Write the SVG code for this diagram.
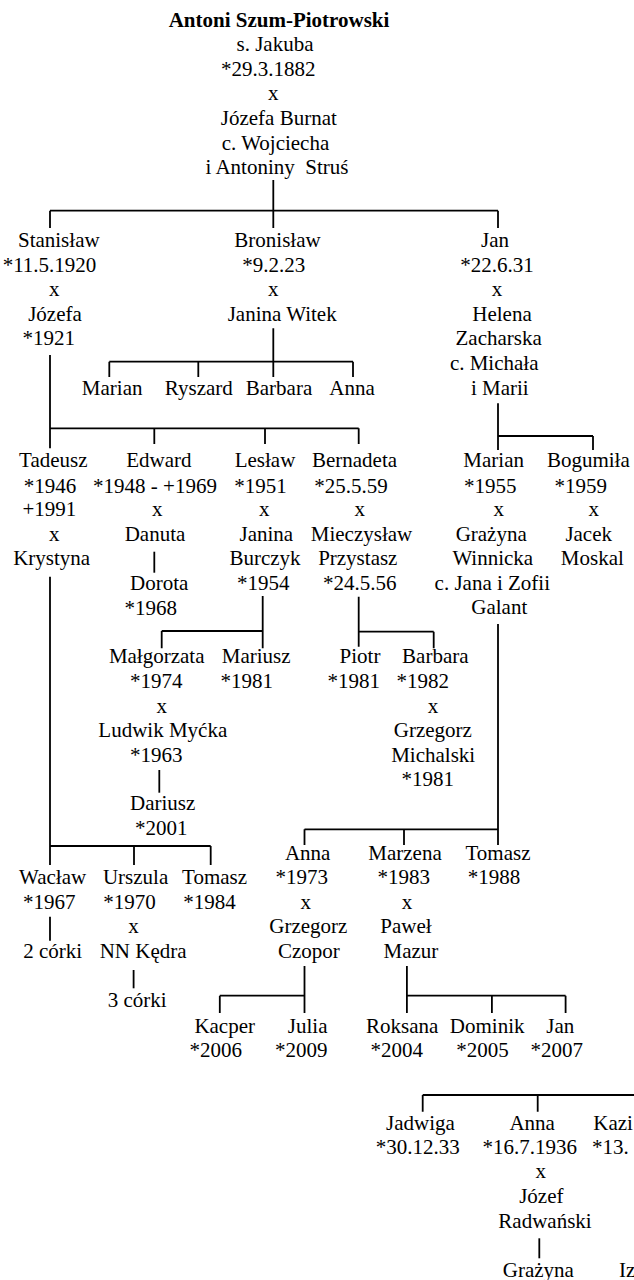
<svg xmlns="http://www.w3.org/2000/svg" width="634" height="1280" viewBox="0 0 634 1280">
<style>
text{font-family:"Liberation Serif","Times New Roman",serif;font-size:21px;fill:#000;text-anchor:middle;white-space:pre}
text.b{font-weight:bold}
text.s{text-anchor:start}
#connectors path{stroke:#000;stroke-width:1.8;fill:none}
</style>
<rect width="634" height="1280" fill="#fff"/>
<g id="connectors">
<path d="M273.3 180V228M50 210.7H498M50 210.7V228M498 210.7V228"/>
<path d="M273.3 328.3V377M109.3 361.7H353M109.3 361.7V377M198.3 361.7V377M353 361.7V377"/>
<path d="M50 355V448.3M50 428.3H358.7M154.3 428.3V444M265 428.3V444M358.7 428.3V444"/>
<path d="M498 403.3V450M498 436H593M593 436V450"/>
<path d="M154.3 551.7V572.7"/>
<path d="M262.7 596V648.3M161.7 631H262.7M161.7 631V648.3"/>
<path d="M358.7 596.7V646.7M358.7 631.7H433.7M433.7 631.7V648.3"/>
<path d="M159.3 770V792.7"/>
<path d="M50 576.7V865M50 846H210.7M134 846V865M210.7 846V865"/>
<path d="M498 624V845M304.5 829.3H498M304.5 829.3V845M404 829.3V845"/>
<path d="M50 916.7V940.7"/>
<path d="M133.6 970V988.3"/>
<path d="M304.5 966V1013M219.8 995.7H304.5M219.8 995.7V1013"/>
<path d="M406.9 966V1013M406.9 995.7H565.6M491.9 995.7V1013M565.6 995.7V1013"/>
<path d="M422.7 1095H634M422.7 1095V1111.7M537.7 1095V1111.7"/>
<path d="M539.3 1238.3V1258.3"/>
</g>
<g id="n-antoni">
<text class="b" x="279" y="27">Antoni Szum-Piotrowski</text>
<text x="275" y="51">s. Jakuba</text>
<text x="268.3" y="76">*29.3.1882</text>
<text x="273.3" y="100">x</text>
<text x="278.8" y="125">Józefa Burnat</text>
<text x="275.5" y="149.5">c. Wojciecha</text>
<text x="277" y="174">i Antoniny  Struś</text>
</g>
<g id="n-stanislaw">
<text x="58.8" y="246.7">Stanisław</text>
<text x="49.5" y="271.7">*11.5.1920</text>
<text x="54.3" y="296">x</text>
<text x="55" y="321">Józefa</text>
<text x="48.7" y="345">*1921</text>
</g>
<g id="n-bronislaw">
<text x="277.5" y="246.7">Bronisław</text>
<text x="273.7" y="271.7">*9.2.23</text>
<text x="273.3" y="296">x</text>
<text x="282.2" y="321">Janina Witek</text>
</g>
<g id="n-jan">
<text x="495" y="246.7">Jan</text>
<text x="497" y="271.7">*22.6.31</text>
<text x="497" y="296">x</text>
<text x="502" y="321">Helena</text>
<text x="498.7" y="345">Zacharska</text>
<text x="494.2" y="370">c. Michała</text>
<text x="499.8" y="394.5">i Marii</text>
</g>
<g id="n-marian-b"><text x="112.2" y="395">Marian</text></g>
<g id="n-ryszard"><text x="198.8" y="395">Ryszard</text></g>
<g id="n-barbara-b"><text x="279" y="395">Barbara</text></g>
<g id="n-anna-b"><text x="352" y="395">Anna</text></g>
<g id="n-tadeusz">
<text x="53.3" y="467.3">Tadeusz</text>
<text x="50" y="492.7">*1946</text>
<text x="49.3" y="516">+1991</text>
<text x="54.3" y="541">x</text>
<text x="51.7" y="565">Krystyna</text>
</g>
<g id="n-edward">
<text x="158.8" y="467.3">Edward</text>
<text x="155" y="492.7">*1948 - +1969</text>
<text x="157.3" y="516">x</text>
<text x="155" y="541">Danuta</text>
</g>
<g id="n-dorota">
<text x="159.2" y="590">Dorota</text>
<text x="150.8" y="615">*1968</text>
</g>
<g id="n-leslaw">
<text x="265" y="467.3">Lesław</text>
<text x="260.5" y="492.7">*1951</text>
<text x="264.3" y="516">x</text>
<text x="266.3" y="541">Janina</text>
<text x="265" y="565">Burczyk</text>
<text x="263.3" y="590">*1954</text>
</g>
<g id="n-bernadeta">
<text x="354.5" y="467.3">Bernadeta</text>
<text x="351" y="492.7">*25.5.59</text>
<text x="359.7" y="516">x</text>
<text x="361.5" y="541">Mieczysław</text>
<text x="357.8" y="565">Przystasz</text>
<text x="359.7" y="590">*24.5.56</text>
</g>
<g id="n-marian-j">
<text x="493.7" y="467.3">Marian</text>
<text x="490.3" y="492.7">*1955</text>
<text x="498.7" y="516">x</text>
<text x="491.2" y="541">Grażyna</text>
<text x="492.8" y="565">Winnicka</text>
<text x="492.3" y="590">c. Jana i Zofii</text>
<text x="499.3" y="614.3">Galant</text>
</g>
<g id="n-bogumila">
<text x="588.3" y="467.3">Bogumiła</text>
<text x="580.8" y="492.7">*1959</text>
<text x="593.7" y="516">x</text>
<text x="588.7" y="541">Jacek</text>
<text x="592.3" y="565">Moskal</text>
</g>
<g id="n-malgorzata">
<text x="156.7" y="663.3">Małgorzata</text>
<text x="156.3" y="688.3">*1974</text>
<text x="161.7" y="713.3">x</text>
<text x="162.8" y="737">Ludwik Myćka</text>
<text x="156.3" y="761.7">*1963</text>
</g>
<g id="n-dariusz">
<text x="162.7" y="810">Dariusz</text>
<text x="161.3" y="835">*2001</text>
</g>
<g id="n-mariusz">
<text x="256.2" y="663.3">Mariusz</text>
<text x="246.7" y="688.3">*1981</text>
</g>
<g id="n-piotr">
<text x="360" y="663.3">Piotr</text>
<text x="353.7" y="688.3">*1981</text>
</g>
<g id="n-barbara-m">
<text x="435.3" y="663.3">Barbara</text>
<text x="422.8" y="688.3">*1982</text>
<text x="433" y="713.3">x</text>
<text x="432.8" y="737.3">Grzegorz</text>
<text x="433.2" y="761.7">Michalski</text>
<text x="427.8" y="786">*1981</text>
</g>
<g id="n-waclaw">
<text x="52.6" y="884">Wacław</text>
<text x="49.2" y="909.3">*1967</text>
<text x="52.6" y="958.3">2 córki</text>
</g>
<g id="n-urszula">
<text x="135.6" y="884">Urszula</text>
<text x="129.6" y="909.3">*1970</text>
<text x="133.6" y="933.3">x</text>
<text x="143.1" y="958.3">NN Kędra</text>
<text x="137.2" y="1006.7">3 córki</text>
</g>
<g id="n-tomasz-t">
<text x="214.6" y="884">Tomasz</text>
<text x="209.5" y="909.3">*1984</text>
</g>
<g id="n-anna-m">
<text x="307.7" y="860">Anna</text>
<text x="301.8" y="884">*1973</text>
<text x="305.7" y="909.3">x</text>
<text x="308.3" y="933.3">Grzegorz</text>
<text x="308.9" y="958.3">Czopor</text>
</g>
<g id="n-marzena">
<text x="405" y="860">Marzena</text>
<text x="403.8" y="884">*1983</text>
<text x="406.9" y="909.3">x</text>
<text x="405.9" y="933.3">Paweł</text>
<text x="410.9" y="958.3">Mazur</text>
</g>
<g id="n-tomasz-m">
<text x="498" y="860">Tomasz</text>
<text x="493.9" y="884">*1988</text>
</g>
<g id="n-kacper"><text x="224.7" y="1032.7">Kacper</text><text x="215.8" y="1056.7">*2006</text></g>
<g id="n-julia"><text x="307.7" y="1032.7">Julia</text><text x="301.2" y="1056.7">*2009</text></g>
<g id="n-roksana"><text x="402.2" y="1032.7">Roksana</text><text x="396.8" y="1056.7">*2004</text></g>
<g id="n-dominik"><text x="487.2" y="1032.7">Dominik</text><text x="482.4" y="1056.7">*2005</text></g>
<g id="n-jan-m"><text x="560.3" y="1032.7">Jan</text><text x="556.7" y="1056.7">*2007</text></g>
<g id="n-jadwiga">
<text x="420.5" y="1130">Jadwiga</text>
<text x="417.7" y="1154">*30.12.33</text>
</g>
<g id="n-anna-r">
<text x="532.2" y="1130">Anna</text>
<text x="529.7" y="1154">*16.7.1936</text>
<text x="540.7" y="1178.3">x</text>
<text x="541.3" y="1202.7">Józef</text>
<text x="545" y="1227.7">Radwański</text>
</g>
<g id="n-grazyna"><text x="538.3" y="1277">Grażyna</text></g>
<g id="n-kazi">
<text class="s" x="593.3" y="1130">Kazi</text>
<text class="s" x="592" y="1154">*13.</text>
</g>
<g id="n-iz"><text class="s" x="619" y="1277">Iz</text></g>
</svg>
